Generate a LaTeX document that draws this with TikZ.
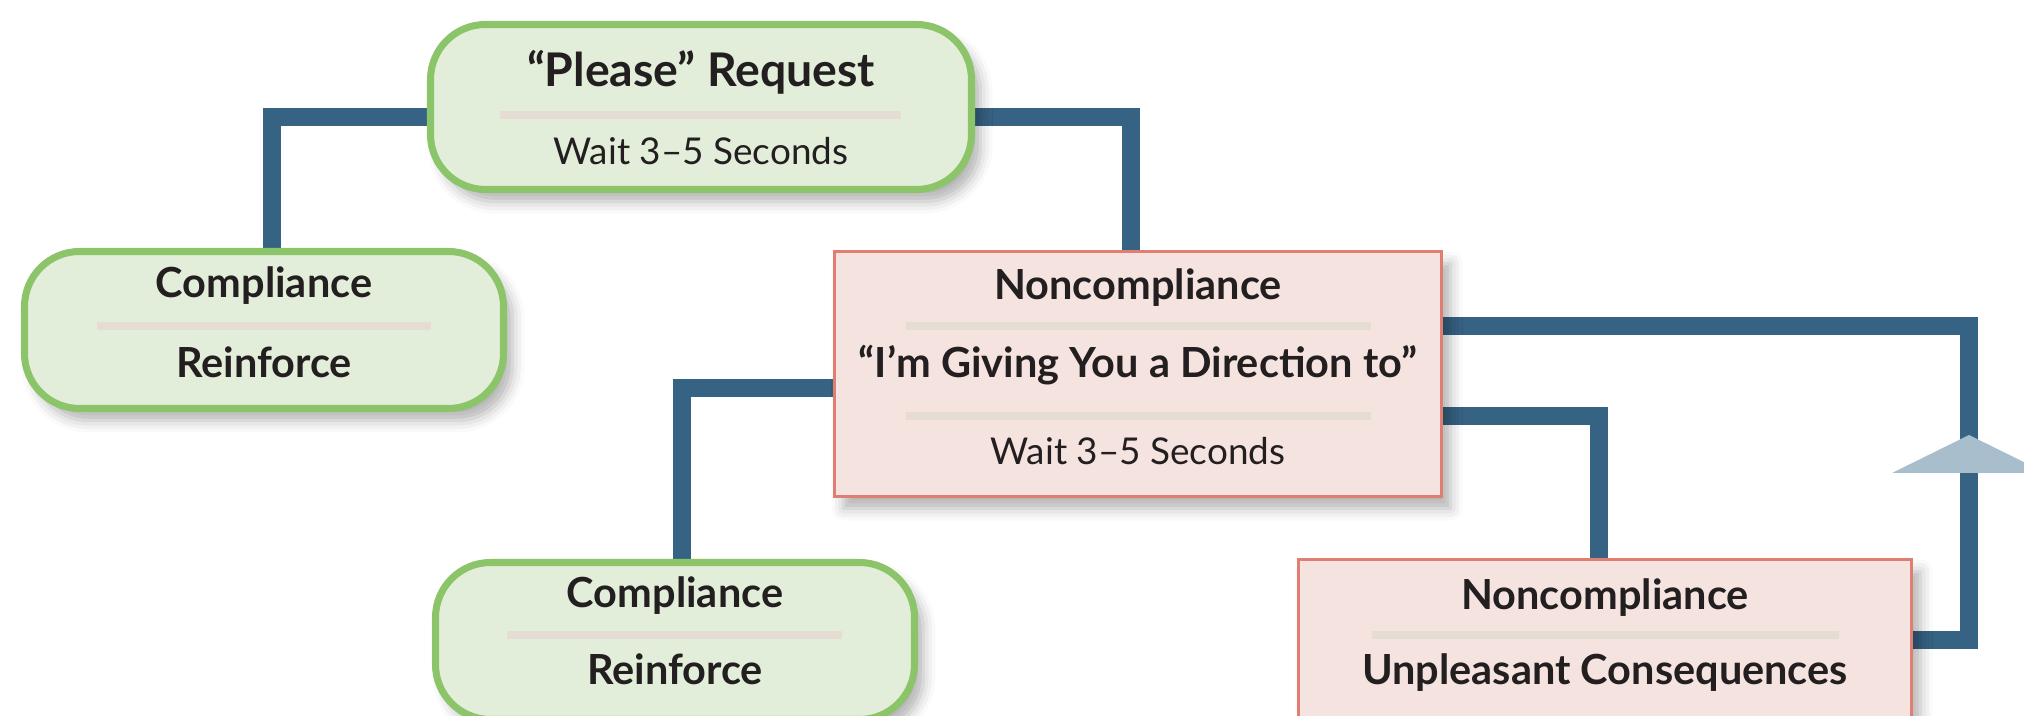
\documentclass[tikz,border=0pt]{standalone}
\usepackage{fontspec}
\setmainfont{Lato}
\usepackage{xcolor}
\definecolor{linkcolor}{RGB}{54,98,132}
\definecolor{okline}{RGB}{140,196,106}
\definecolor{okfill}{RGB}{226,238,217}
\definecolor{noline}{RGB}{224,126,114}
\definecolor{nofill}{RGB}{245,227,224}
\definecolor{rulecolor}{RGB}{229,221,211}
\definecolor{tipcolor}{RGB}{169,190,204}
\definecolor{inkcolor}{RGB}{35,31,32}
\usetikzlibrary{backgrounds,shadows.blur}
\tikzset{
    softshadow/.style={blur shadow={shadow xshift=0.9mm, shadow yshift=-1.2mm, shadow blur radius=1.2mm, shadow opacity=30}},
    okbox/.style={draw=okline, fill=okfill, line width=2pt, rounded corners=5.5mm, inner sep=0pt, softshadow},
    nobox/.style={draw=noline, fill=nofill, line width=0.9pt, inner sep=0pt, softshadow},
    head/.style={font=\bfseries\fontsize{11.8}{14}\selectfont, text=inkcolor, anchor=base, inner sep=0pt},
    bighead/.style={head, font=\bfseries\fontsize{13.2}{15}\selectfont},
    note/.style={font=\fontsize{10.5}{13}\selectfont, text=inkcolor, anchor=base, inner sep=0pt},
    rule/.style={draw=rulecolor, line width=0.8mm},
    link/.style={draw=linkcolor, line width=1.8mm},
}

\begin{document}
\begin{tikzpicture}[x=0.1mm, y=-0.1mm]
	\useasboundingbox (0,0) rectangle (2024,716);
	% boxes
	\node [okbox, minimum width=54.1mm, minimum height=16.5mm] (please) at (701,107) {};
	\node [okbox, minimum width=47.9mm, minimum height=15.7mm] (comply1) at (264,330) {};
	\node [nobox, minimum width=60.7mm, minimum height=24.5mm] (refuse1) at (1138,374) {};
	\node [okbox, minimum width=47.9mm, minimum height=15.7mm] (comply2) at (675,641) {};
	\node [nobox, minimum width=61.3mm, minimum height=16.5mm] (refuse2) at (1605,642) {};
	% texts
	\node [bighead] (pleaseA) at (701,87) {“Please” Request};
	\node [note] (pleaseB) at (701,165) {Wait 3–5 Seconds};
	\node [head] (comply1A) at (264,298) {Compliance};
	\node [head] (comply1B) at (264,378) {Reinforce};
	\node [head] (refuse1A) at (1138,300) {Noncompliance};
	\node [head] (refuse1B) at (1138,378) {“I’m Giving You a Direction to”};
	\node [note] (refuse1C) at (1138,465) {Wait 3–5 Seconds};
	\node [head] (comply2A) at (675,608) {Compliance};
	\node [head] (comply2B) at (675,685) {Reinforce};
	\node [head] (refuse2A) at (1605,610) {Noncompliance};
	\node [head] (refuse2B) at (1605,685) {Unpleasant Consequences};
	% separators
	\draw [rule] (500,115) -- (901,115);
	\draw [rule] (97,326) -- (431,326);
	\draw [rule] (906,326) -- (1371,326);
	\draw [rule] (906,416) -- (1371,416);
	\draw [rule] (507,635) -- (842,635);
	\draw [rule] (1372,635) -- (1839,635);
	% connectors
	\coordinate (turn) at (1969,640);
	\begin{scope}[on background layer]
		\draw [link] (please.west |- 0,117) -| (272,0 |- comply1.north);
		\draw [link] (please.east |- 0,117) -| (1131,0 |- refuse1.north);
		\draw [link] (refuse1.west |- 0,388) -| (682,0 |- comply2.north);
		\draw [link] (refuse1.east |- 0,416) -| (1599,0 |- refuse2.north);
		\draw [link] (refuse2.east |- turn) -- (turn) |- (refuse1.east |- 0,326);
	\end{scope}
	\fill [tipcolor] (1969,435) -- (2046,473) -- (1892,473) -- cycle;
\end{tikzpicture}
\end{document}
